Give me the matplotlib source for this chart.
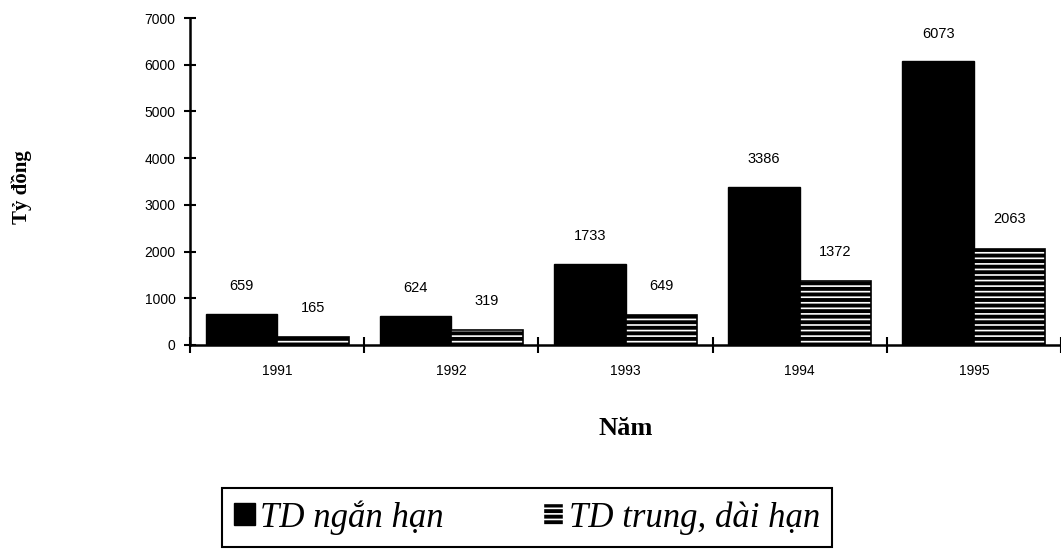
import numpy as np
import matplotlib
matplotlib.use("Agg")
import matplotlib.pyplot as plt
from matplotlib.patches import Patch

years = ["1991", "1992", "1993", "1994", "1995"]
short_term = [659, 624, 1733, 3386, 6073]      # TD ngắn hạn
long_term = [165, 319, 649, 1372, 2063]        # TD trung, dài hạn
yticks = [0, 1000, 2000, 3000, 4000, 5000, 6000, 7000]

plt.rcParams.update({"font.family": "Liberation Sans", "hatch.linewidth": 1.2})
fig = plt.figure(figsize=(10.61, 5.56), dpi=100)
ax = fig.add_axes([190 / 1061, 1 - 345 / 556, 1 - 190 / 1061, 327 / 556])

x = np.arange(len(years))
w = 0.41
ax.bar(x - w / 2, short_term, w, color="black", edgecolor="black", lw=1)
# striped bars: white stripes on black, then a black outline
ax.bar(x + w / 2, long_term, w, color="black", edgecolor="white", hatch="---", lw=0)
ax.bar(x + w / 2, long_term, w, fill=False, edgecolor="black", lw=1.2)

for xi, v in zip(x - w / 2, short_term):
    ax.annotate(str(v), (xi, v), xytext=(0, 20), textcoords="offset points",
                ha="center", va="center", fontsize=10.5)
for xi, v in zip(x + w / 2, long_term):
    ax.annotate(str(v), (xi, v), xytext=(0, 21), textcoords="offset points",
                ha="center", va="center", fontsize=10.5)

ax.set_xlim(-0.5, 4.5)
ax.set_ylim(0, 7000)
ax.set_yticks(yticks)
ax.set_yticklabels([str(t) for t in yticks], fontsize=10)
ax.set_xticks(x)
ax.set_xticklabels(years, fontsize=10)
ax.tick_params(axis="x", which="major", length=0, pad=14)
ax.set_xticks(np.arange(-0.5, 5.0, 1.0), minor=True)
ax.tick_params(axis="x", which="minor", direction="inout", length=12, width=1.5)
ax.tick_params(axis="y", direction="inout", length=9, width=1.5, pad=6)
for s in ("top", "right"):
    ax.spines[s].set_visible(False)
for s in ("left", "bottom"):
    ax.spines[s].set_linewidth(1.8)

ax.set_xlabel("Năm", family="Liberation Serif", fontweight="bold", fontsize=19, labelpad=28)
fig.text(22 / 1061, 1 - 187 / 556, "Tỷ đồng", rotation=90, ha="center", va="center",
         family="Liberation Serif", fontweight="bold", fontsize=15)

handles = [Patch(facecolor="black", edgecolor="black"),
           Patch(facecolor="black", edgecolor="white", hatch="---")]
leg = fig.legend(handles, ["TD ngắn hạn", "TD trung, dài hạn"], ncol=2, mode="expand",
                 loc="upper left",
                 bbox_to_anchor=(222 / 1061, 1 - 488 / 556, 610 / 1061, 0.0),
                 prop={"family": "Liberation Serif", "style": "italic", "size": 25},
                 frameon=True, fancybox=False, edgecolor="black", framealpha=1,
                 handlelength=0.6, handleheight=0.6, handletextpad=0.15,
                 columnspacing=0.8, borderpad=0.35, borderaxespad=0)
leg.get_frame().set_linewidth(1.5)

fig.savefig("out.png", dpi=100)
